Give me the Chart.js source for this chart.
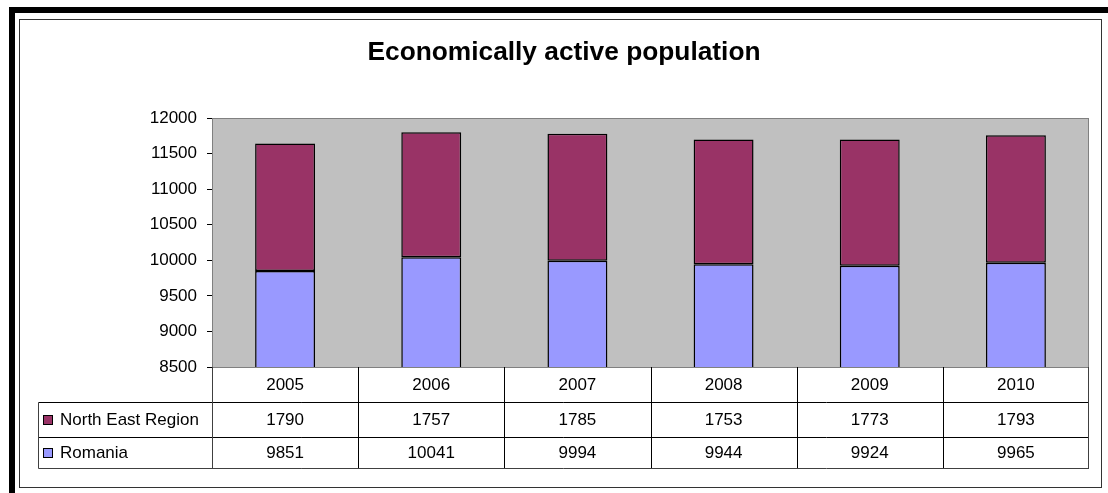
<!DOCTYPE html>
<html>
<head>
<meta charset="utf-8">
<script src="https://cdn.jsdelivr.net/npm/chart.js@4"></script>
<style>
  body { margin: 0; background: #fff; }
  #wrap { width: 1108px; height: 493px; }
</style>
</head>
<body>
<div id="wrap"><canvas id="myChart" width="1108" height="493"></canvas></div>
<script>
var title = 'Economically active population';
var years = ['2005', '2006', '2007', '2008', '2009', '2010'];
var northEast = [1790, 1757, 1785, 1753, 1773, 1793];
var romania = [9851, 10041, 9994, 9944, 9924, 9965];
var yTicks = [8500, 9000, 9500, 10000, 10500, 11000, 11500, 12000];

var FONT = "'Liberation Sans', Arial, sans-serif";

// frame, title and plot background
var framePlugin = {
  id: 'frame',
  beforeDraw: function(chart) {
    var c = chart.ctx, a = chart.chartArea;
    c.save();
    c.fillStyle = '#fff';
    c.fillRect(0, 0, chart.width, chart.height);
    c.fillStyle = '#000';
    c.fillRect(9, 7, 6, chart.height - 7);
    c.fillRect(9, 7, chart.width - 9, 6);
    c.strokeStyle = '#333';
    c.lineWidth = 1;
    c.strokeRect(19.5, 19.5, 1082, 468);

    c.fillStyle = '#000';
    c.font = 'bold 26.3px ' + FONT;
    c.textAlign = 'center';
    c.textBaseline = 'middle';
    c.fillText(title, 564, 53);

    c.fillStyle = '#c0c0c0';
    c.fillRect(a.left, a.top, a.right - a.left, a.bottom - a.top);
    c.strokeStyle = '#808080';
    c.strokeRect(a.left + 0.5, a.top + 0.5, a.right - a.left - 1, a.bottom - a.top);
    c.restore();
  }
};

// data table under the plot
var tablePlugin = {
  id: 'datatable',
  afterDraw: function(chart) {
    var c = chart.ctx, x = chart.scales.x, a = chart.chartArea;
    var n = years.length;
    var colW = (x.right - x.left) / n;
    var rowTop = a.bottom, r1 = rowTop + 35, r2 = r1 + 35, r3 = r2 + 31;
    var tableLeft = 38.5;
    c.save();
    c.lineWidth = 1;
    c.strokeStyle = '#000';
    c.beginPath();
    [r1, r2].forEach(function(y) {
      c.moveTo(tableLeft, Math.round(y) + 0.5);
      c.lineTo(x.right, Math.round(y) + 0.5);
    });
    for (var i = 1; i < n; i++) {
      var xx = Math.round(x.left + colW * i) + 0.5;
      c.moveTo(xx, rowTop);
      c.lineTo(xx, r3);
    }
    c.stroke();

    c.strokeStyle = '#404040';
    c.beginPath();
    c.moveTo(x.left + 0.5, rowTop);
    c.lineTo(x.left + 0.5, r3);
    c.moveTo(x.right - 0.5, rowTop);
    c.lineTo(x.right - 0.5, r3);
    c.moveTo(tableLeft, Math.round(r1) + 0.5);
    c.lineTo(tableLeft, Math.round(r3) + 0.5);
    c.lineTo(x.right, Math.round(r3) + 0.5);
    c.stroke();

    c.font = '17px ' + FONT;
    c.fillStyle = '#000';
    c.textAlign = 'center';
    c.textBaseline = 'middle';
    for (var j = 0; j < n; j++) {
      var cx = x.getPixelForValue(j);
      c.fillText(years[j], cx, (rowTop + r1) / 2 + 1);
      c.fillText(String(northEast[j]), cx, (r1 + r2) / 2 + 1);
      c.fillText(String(romania[j]), cx, (r2 + r3) / 2 + 1);
    }

    // legend keys: row 1 = North East Region (dataset 1), row 2 = Romania (dataset 0)
    var rows = [[chart.data.datasets[1], (r1 + r2) / 2], [chart.data.datasets[0], (r2 + r3) / 2]];
    c.textAlign = 'left';
    rows.forEach(function(r) {
      c.fillStyle = r[0].backgroundColor;
      c.fillRect(43, Math.round(r[1]) - 5, 10, 10);
      c.strokeStyle = '#000';
      c.strokeRect(43.5, Math.round(r[1]) - 4.5, 9, 9);
      c.fillStyle = '#000';
      c.fillText(r[0].label, 60, r[1] + 1);
    });
    c.restore();
  }
};

var ctx = document.getElementById('myChart').getContext('2d');
var barChart = new Chart(ctx, {
  type: 'bar',
  data: {
    labels: years,
    datasets: [{
      label: 'Romania',
      data: romania,
      backgroundColor: '#9999ff',
      borderColor: '#000',
      borderWidth: 1.5,
      borderSkipped: false
    }, {
      label: 'North East Region',
      data: northEast,
      backgroundColor: '#993366',
      borderColor: '#000',
      borderWidth: 1.5,
      borderSkipped: false
    }]
  },
  options: {
    responsive: false,
    animation: false,
    devicePixelRatio: 1,
    layout: { padding: { top: 118, right: 19, bottom: 126, left: 0 } },
    plugins: {
      legend: { display: false },
      title: { display: false },
      tooltip: { enabled: false }
    },
    datasets: { bar: { categoryPercentage: 1, barPercentage: 0.41 } },
    scales: {
      x: {
        display: false,
        stacked: true
      },
      y: {
        stacked: true,
        min: 8500,
        max: 12000,
        afterFit: function(scale) { scale.width = 212; },
        afterBuildTicks: function(scale) {
          scale.ticks = yTicks.map(function(v) { return { value: v }; });
        },
        border: { display: false },
        grid: {
          drawOnChartArea: false,
          drawTicks: true,
          tickLength: 5,
          color: '#000'
        },
        ticks: {
          padding: 10,
          color: '#000',
          font: { family: FONT, size: 17 },
          callback: function(v) { return String(v); }
        }
      }
    }
  },
  plugins: [framePlugin, tablePlugin]
});
</script>
</body>
</html>
